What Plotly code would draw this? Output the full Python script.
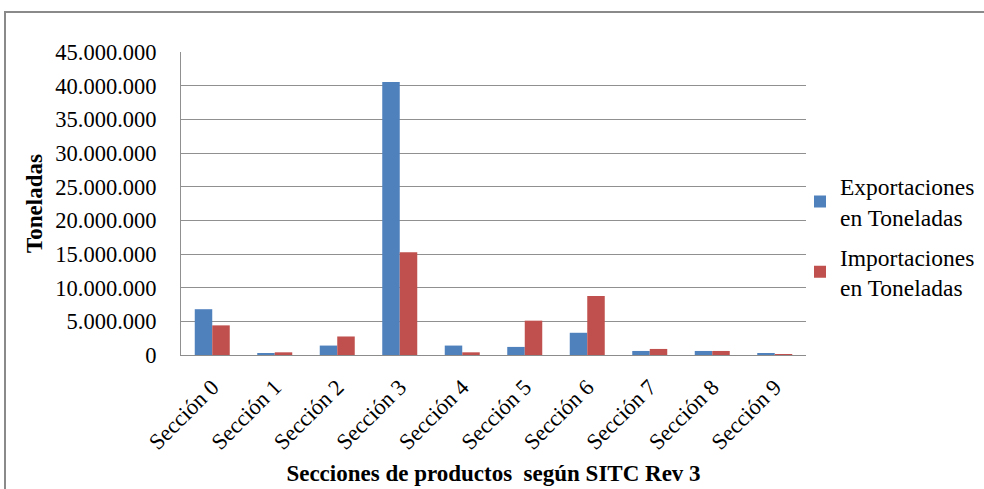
import plotly.graph_objects as go

categories = ["Sección 0", "Sección 1", "Sección 2", "Sección 3", "Sección 4",
              "Sección 5", "Sección 6", "Sección 7", "Sección 8", "Sección 9"]
exportaciones = [6800000, 250000, 1400000, 40550000, 1400000,
                 1200000, 3300000, 600000, 600000, 250000]
importaciones = [4400000, 400000, 2750000, 15250000, 400000,
                 5100000, 8750000, 900000, 600000, 50000]
y_ticks = [0, 5000000, 10000000, 15000000, 20000000, 25000000,
           30000000, 35000000, 40000000, 45000000]

FONT = "Liberation Serif"

fig = go.Figure()
fig.add_trace(go.Bar(x=categories, y=exportaciones, name="Exportaciones<br>en Toneladas",
                     marker=dict(color="#4F81BD", line=dict(width=0)), legendgroup="a"))
fig.add_trace(go.Bar(x=categories, y=importaciones, name="Importaciones<br>en Toneladas",
                     marker=dict(color="#C0504D", line=dict(width=0)), legendgroup="b"))

L, R, T, B = 181, 178, 52, 134
W, H = 984, 489
pw, ph = W - L - R, H - T - B

def px_x(p):
    return (p - L) / pw

def px_y(p):
    return (H - B - p) / ph

fig.update_layout(
    width=W, height=H,
    margin=dict(l=L, r=R, t=T, b=B, autoexpand=False),
    paper_bgcolor="white", plot_bgcolor="white",
    separators=",.",
    barmode="group", bargap=0.44, bargroupgap=0,
    font=dict(family=FONT, size=22, color="black"),
    showlegend=True,
    legend=dict(x=px_x(800), y=px_y(237), xanchor="left", yanchor="middle",
                font=dict(family=FONT, size=23.5, color="black"),
                tracegroupgap=6, itemwidth=30, bgcolor="rgba(0,0,0,0)"),
    xaxis=dict(tickangle=-45, showgrid=False, showline=True, linecolor="#8c8c8c",
               linewidth=1, ticks="", tickfont=dict(family=FONT, size=22.5),
               ticklabelstandoff=9,
               title=dict(text="<b>Secciones de productos&nbsp; según SITC Rev 3</b>",
                          font=dict(family=FONT, size=23), standoff=11)),
    yaxis=dict(range=[0, 45000000], tickvals=y_ticks, tickformat=",d",
               showgrid=True, gridcolor="#909090", gridwidth=1,
               showline=True, linecolor="#909090", linewidth=1,
               ticks="", ticklabelstandoff=19,
               tickfont=dict(family=FONT, size=22.5),
               title=dict(text="<b>Toneladas</b>", font=dict(family=FONT, size=23), standoff=6),
               zeroline=False),
    shapes=[dict(type="rect", xref="paper", yref="paper",
                 x0=px_x(5), x1=px_x(W + 10), y0=px_y(H + 10), y1=px_y(12),
                 line=dict(color="#8a8a8a", width=2), fillcolor="rgba(0,0,0,0)", layer="below")],
)

fig.write_html("out.html", config={"displayModeBar": False},
               post_script="document.body.style.margin='0';document.body.style.padding='0';")
